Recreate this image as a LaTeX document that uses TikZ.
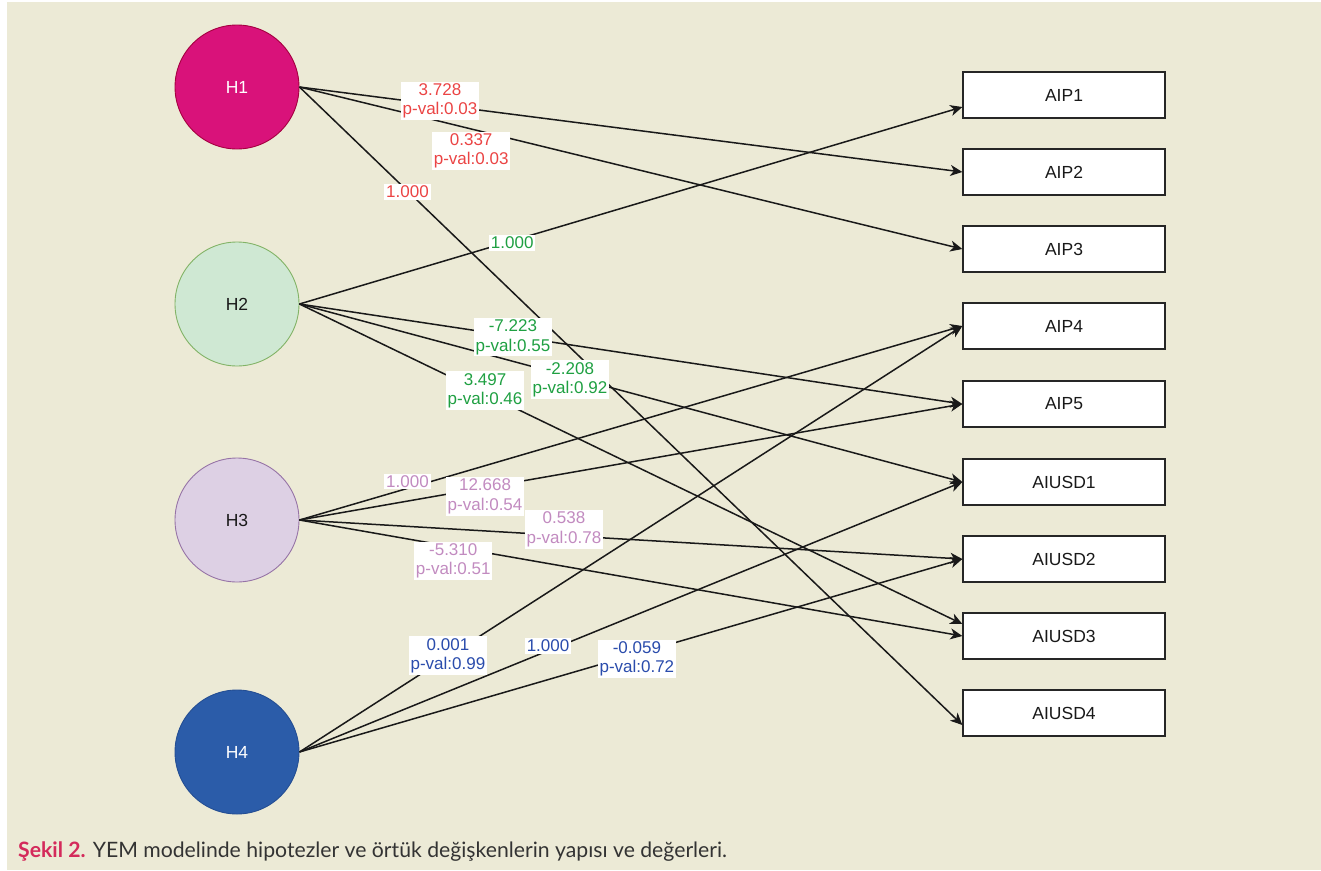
\documentclass[tikz,border=0pt]{standalone}
\usepackage{fontspec}
\setmainfont{Liberation Sans}
\newfontfamily\capfont{Lato}
\usetikzlibrary{arrows.meta}
\definecolor{bg}{HTML}{ECEAD6}
\definecolor{hone}{HTML}{D9127A}
\definecolor{honeb}{HTML}{A50040}
\definecolor{htwo}{HTML}{CFE8D3}
\definecolor{htwob}{HTML}{82B366}
\definecolor{hthree}{HTML}{DDD0E4}
\definecolor{hthreeb}{HTML}{9673A6}
\definecolor{hfour}{HTML}{2B5CA9}
\definecolor{hfourb}{HTML}{244E93}
\definecolor{lred}{HTML}{EB4444}
\definecolor{lgreen}{HTML}{1FA042}
\definecolor{lpink}{HTML}{C28BC0}
\definecolor{lblue}{HTML}{2A4CAC}
\definecolor{capred}{HTML}{D42A5B}
\definecolor{capgray}{HTML}{333333}
\begin{document}
\begin{tikzpicture}[x=1pt,y=-1pt,
  hyp/.style={circle, minimum size=124pt, inner sep=0pt, line width=0.9pt, font=\fontsize{17.5}{20}\selectfont},
  obs/.style={rectangle, draw=black!85, fill=white, line width=1.3pt, minimum width=202pt, minimum height=46pt, inner sep=0pt, text=black!90, font=\fontsize{17.5}{20}\selectfont},
  conn/.style={line width=1.5pt, draw=black!90, -{Stealth[length=12pt,width=11pt,inset=3.5pt]}},
  lab/.style={fill=white, inner sep=1.8pt, align=center, font=\fontsize{17}{19.5}\selectfont},
  labr/.style={lab, text=lred},
  labg/.style={lab, text=lgreen},
  labp/.style={lab, text=lpink},
  labb/.style={lab, text=lblue}]
\useasboundingbox (0,0) rectangle (1321,870);
\fill[white] (0,0) rectangle (1321,870);
\fill[bg] (7,2) rectangle (1321,870);

% hypotheses
\node[hyp, fill=hone, draw=honeb, text=white] (H1) at (237,87) {H1};
\node[hyp, fill=htwo, draw=htwob, text=black!90] (H2) at (237,304) {H2};
\node[hyp, fill=hthree, draw=hthreeb, text=black!90] (H3) at (237,520) {H3};
\node[hyp, fill=hfour, draw=hfourb, text=white] (H4) at (237,752) {H4};

% indicators
\node[obs] (AIP1) at (1064,95) {AIP1};
\node[obs] (AIP2) at (1064,172) {AIP2};
\node[obs] (AIP3) at (1064,249) {AIP3};
\node[obs] (AIP4) at (1064,326) {AIP4};
\node[obs] (AIP5) at (1064,404) {AIP5};
\node[obs] (AIUSD1) at (1064,482) {AIUSD1};
\node[obs] (AIUSD2) at (1064,559) {AIUSD2};
\node[obs] (AIUSD3) at (1064,636) {AIUSD3};
\node[obs] (AIUSD4) at (1064,713) {AIUSD4};

\coordinate (AIP1in) at ([yshift=-12pt]AIP1.west);
\coordinate (AIUSD3in) at ([yshift=12pt]AIUSD3.west);
\coordinate (AIUSD4in) at ([yshift=-12pt]AIUSD4.west);

% connectors
\draw[conn] (H1.east) -- (AIP2.west);
\draw[conn] (H1.east) -- (AIP3.west);
\draw[conn] (H1.east) -- (AIUSD4in);
\draw[conn] (H2.east) -- (AIP1in);
\draw[conn] (H2.east) -- (AIP5.west);
\draw[conn] (H2.east) -- (AIUSD1.west);
\draw[conn] (H2.east) -- (AIUSD3in);
\draw[conn] (H3.east) -- (AIP4.west);
\draw[conn] (H3.east) -- (AIP5.west);
\draw[conn] (H3.east) -- (AIUSD2.west);
\draw[conn] (H3.east) -- (AIUSD3.west);
\draw[conn] (H4.east) -- (AIP4.west);
\draw[conn] (H4.east) -- (AIUSD1.west);
\draw[conn] (H4.east) -- (AIUSD2.west);

% labels (on top of all connectors)
\path (H1.east) -- node[labr, pos=0.212, yshift=4pt] (l1) {3.728\\p-val:0.03} (AIP2.west);
\path (H1.east) -- node[labr, pos=0.259, yshift=-22pt] (l2) {0.337\\p-val:0.03} (AIP3.west);
\path (H1.east) -- node[labr, pos=0.163, yshift=-1pt] (l3) {1.000} (AIUSD4in);
\path (H2.east) -- node[labg, pos=0.321, yshift=-2pt] (l4) {1.000} (AIP1in);
\path (H2.east) -- node[labg, pos=0.322, yshift=-1pt] (l5) {-7.223\\p-val:0.55} (AIP5.west);
\path (H2.east) -- node[labg, pos=0.408, yshift=-3pt] (l6) {-2.208\\p-val:0.92} (AIUSD1.west);
\path (H2.east) -- node[labg, pos=0.280, yshift=3pt] (l7) {3.497\\p-val:0.46} (AIUSD3in);
\path (H3.east) -- node[labp, pos=0.163, yshift=7pt] (l8) {1.000} (AIP4.west);
\path (H3.east) -- node[labp, pos=0.280, yshift=-9pt] (l9) {12.668\\p-val:0.54} (AIP5.west);
\path (H3.east) -- node[labp, pos=0.399, yshift=6pt] (l10) {0.538\\p-val:0.78} (AIUSD2.west);
\path (H3.east) -- node[labp, pos=0.232, yshift=-14pt] (l11) {-5.310\\p-val:0.51} (AIUSD3.west);
\path (H4.east) -- node[labb, pos=0.224, yshift=1pt] (l12) {0.001\\p-val:0.99} (AIP4.west);
\path (H4.east) -- node[labb, pos=0.375, yshift=5pt] (l13) {1.000} (AIUSD1.west);
\path (H4.east) -- node[labb, pos=0.509, yshift=-5pt] (l14) {-0.059\\p-val:0.72} (AIUSD2.west);

% caption
\node[anchor=base west, inner sep=0pt, text=capgray, font=\capfont\fontsize{21.2}{25}\selectfont] (cap) at (18,857)
  {\textcolor{capred}{\bfseries Şekil 2.} YEM modelinde hipotezler ve örtük değişkenlerin yapısı ve değerleri.};
\end{tikzpicture}
\end{document}
